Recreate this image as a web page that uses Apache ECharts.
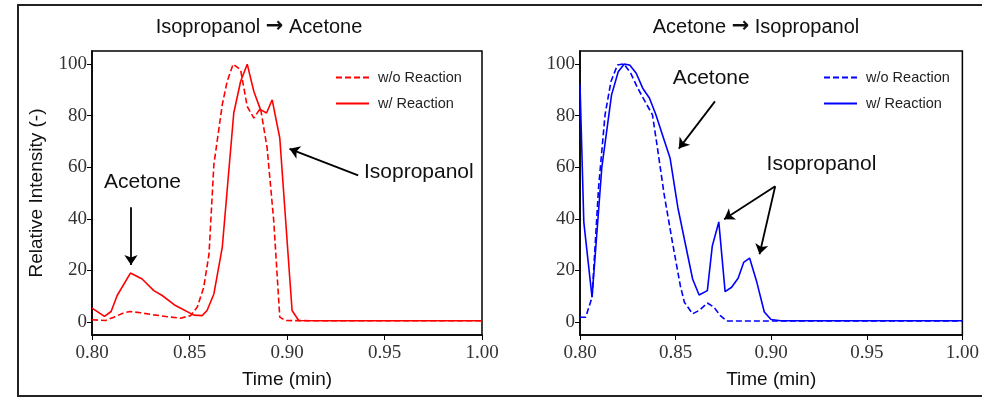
<!DOCTYPE html>
<html>
<head>
<meta charset="utf-8">
<script src="https://cdn.jsdelivr.net/npm/echarts@6/dist/echarts.min.js"></script>
<style>html,body{margin:0;padding:0;background:#fff}#c{width:982px;height:398px}</style>
</head>
<body>
<div id="c"></div>
<script>
// ---- data (time in min, relative intensity) ----
var leftTime_wo  = [0.800,0.8069,0.8112,0.8163,0.8197,0.8249,0.8317,0.8386,0.8454,0.8505,0.854,0.8573,0.860,0.8625,0.8668,0.8693,0.8724,0.8762,0.8796,0.883,0.8864,0.8898,0.8932,0.8963,0.8992,0.92,1.00];
var leftVal_wo   = [0.9,0.6,1.9,3.6,4.1,3.6,2.8,2.1,1.5,2.5,5.8,13.5,26.3,61,84.2,93.2,99.9,97.7,83.5,79,82.9,67.5,39.2,1.9,0.6,0.5,0.5];
var leftTime_w   = [0.800,0.8064,0.8098,0.8129,0.8197,0.8257,0.8317,0.836,0.8428,0.8522,0.8565,0.859,0.8625,0.8668,0.8727,0.8762,0.8796,0.883,0.8864,0.8895,0.8924,0.8963,0.9026,0.906,0.92,1.00];
var leftVal_w    = [5.4,2.2,4.1,10.3,19.0,16.7,12.2,10.3,6.4,2.7,2.5,4.5,10.9,28.9,81.0,93.2,99.9,89.3,82.3,81.0,86.1,71.3,4.5,0.6,0.5,0.5];
var rightTime_wo = [0.800,0.803,0.8063,0.8097,0.8131,0.8162,0.8196,0.823,0.8265,0.8302,0.8345,0.8379,0.8405,0.844,0.8482,0.8525,0.8546,0.8589,0.8623,0.8666,0.870,0.8734,0.8768,1.00];
var rightVal_wo  = [1.9,1.9,9.6,52,80.3,93.2,99.6,100,96.4,90.6,84.8,80.3,67.5,49.5,31.5,14,7.7,3.2,4.5,7.4,5.8,2.5,0.4,0.4];
var rightTime_w  = [0.800,0.802,0.8063,0.8114,0.8165,0.820,0.823,0.826,0.8294,0.8328,0.8363,0.8397,0.8431,0.8471,0.8512,0.8546,0.8589,0.8623,0.8666,0.8692,0.8726,0.8759,0.8793,0.8827,0.8856,0.8887,0.8925,0.8964,0.8999,0.905,1.00];
var rightVal_w   = [92,38.6,9.6,59.8,88,97,99.9,99.6,96.4,90.6,86.8,80.3,72.6,63.6,44.3,32.1,16.7,10.5,12.2,29.5,38.8,11.8,13.5,17.0,23.1,24.8,15.4,3.9,1.0,0.5,0.5];

var xTicks = [0.80,0.85,0.90,0.95,1.00];
var yTicks = [0,20,40,60,80,100];
var titleParts = [['Isopropanol','Acetone'],['Acetone','Isopropanol']];
var legendNames = {L_wo:'w/o Reaction', L_w:'w/ Reaction', R_wo:'w/o Reaction', R_w:'w/ Reaction'};

// annotations: [text, t, v]
var leftLabels  = [['Acetone',0.8259,54.1],['Isopropanol',0.9676,58.0]];
var leftArrows  = [[[0.820,44.5],[0.820,22.1]],[[0.9365,56.8],[0.9013,67.1]]];
var rightLabels = [['Acetone',0.8686,94.6],['Isopropanol',0.9263,61.0]];
var rightArrows = [[[0.8706,85.5],[0.8517,67.2]],[[0.9021,52.6],[0.8754,39.8]],[[0.9021,52.6],[0.8939,26.3]]];

function zip(a,b){return a.map(function(t,i){return [t,b[i]];});}

var SERIF = '"Liberation Serif", "DejaVu Serif", serif';
var SANS = '"Liberation Sans", Arial, sans-serif';

function xAxis(gi){
  return {type:'value', gridIndex:gi, min:0.8, max:1.0, interval:0.05,
    name:'Time (min)', nameLocation:'middle', nameGap:35,
    nameTextStyle:{fontFamily:SANS, fontSize:19, color:'#111'},
    axisLine:{show:true, onZero:false, lineStyle:{color:'#000', width:1.5}},
    axisTick:{show:true, length:5, lineStyle:{color:'#000', width:1}},
    axisLabel:{fontFamily:SERIF, fontSize:19, color:'#333', margin:9, formatter:function(v){return v.toFixed(2);}},
    splitLine:{show:false}};
}
function yAxis(gi, withName){
  return {type:'value', gridIndex:gi, min:-5, max:105,
    name: withName ? 'Relative Intensity (-)' : '', nameLocation:'middle', nameGap:46,
    nameTextStyle:{fontFamily:SANS, fontSize:19, color:'#111'},
    axisLine:{show:true, onZero:false, lineStyle:{color:'#000', width:1.5}},
    axisTick:{show:true, length:5, customValues:yTicks, lineStyle:{color:'#000', width:1}},
    axisLabel:{fontFamily:SERIF, fontSize:19, color:'#333', margin:5, customValues:yTicks},
    splitLine:{show:false}};
}
function lineSeries(name, gi, data, color, dashed){
  return {type:'line', name:name, xAxisIndex:gi, yAxisIndex:gi, data:data,
    symbol:'none', showSymbol:false, smooth:false, animation:false, silent:true,
    lineStyle:{color:color, width:1.6, type: dashed ? [6,3] : 'solid'},
    itemStyle:{color:color}};
}
function annotSeries(gi, labels, arrows){
  return {type:'line', name:'annot'+gi, xAxisIndex:gi, yAxisIndex:gi, data:[], symbol:'none', silent:true, animation:false,
    markLine:{silent:true, animation:false, symbol:['none','arrow'], symbolSize:10,
      lineStyle:{color:'#000', width:1.8, type:'solid'}, label:{show:false}, emphasis:{disabled:true},
      data: arrows.map(function(a){return [{coord:a[0]},{coord:a[1]}];})},
    markPoint:{silent:true, animation:false, symbol:'circle', symbolSize:0,
      label:{show:true, position:'inside', fontFamily:SANS, fontSize:21, color:'#111', formatter:function(p){return p.name;}},
      data: labels.map(function(l){return {name:l[0], coord:[l[1],l[2]]};})}};
}
function legend(left, names){
  return {orient:'vertical', left:left, top:65, itemWidth:33, itemHeight:14, itemGap:11, data:names,
    formatter:function(n){return legendNames[n];}, selectedMode:false,
    itemStyle:{opacity:0},
    textStyle:{fontFamily:SANS, fontSize:14.5, color:'#222', padding:[0,0,0,4]}};
}
function titleText(x, parts){
  return {type:'text', x:x, y:27, silent:true,
    style:{text:parts[0]+' {a|\u2192} '+parts[1], fontFamily:SANS, fontSize:20, fill:'#111',
      textAlign:'center', textVerticalAlign:'middle',
      rich:{a:{fontFamily:'"DejaVu Sans", sans-serif', fontWeight:'bold', fontSize:21, fill:'#111'}}}};
}

var chart = echarts.init(document.getElementById('c'), null, {renderer:'canvas'});
chart.setOption({
  animation:false,
  backgroundColor:'#fff',
  grid:[
    {left:92, right:500, top:51, bottom:63, show:true, borderColor:'#000', borderWidth:1.5},
    {left:580, right:14, top:51, bottom:63, show:true, borderColor:'#000', borderWidth:1.5}
  ],
  xAxis:[xAxis(0), xAxis(1)],
  yAxis:[yAxis(0,true), yAxis(1,false)],
  legend:[legend(330,['L_wo','L_w']), legend(818,['R_wo','R_w'])],
  graphic:[
    {type:'rect', shape:{x:18, y:5, width:1000, height:391}, style:{fill:'none', stroke:'#222', lineWidth:2}, silent:true},
    titleText(259, titleParts[0]),
    titleText(756, titleParts[1])
  ],
  series:[
    lineSeries('L_wo',0,zip(leftTime_wo,leftVal_wo),'#ff0000',true),
    lineSeries('L_w',0,zip(leftTime_w,leftVal_w),'#ff0000',false),
    lineSeries('R_wo',1,zip(rightTime_wo,rightVal_wo),'#0000ff',true),
    lineSeries('R_w',1,zip(rightTime_w,rightVal_w),'#0000ff',false),
    annotSeries(0,leftLabels,leftArrows),
    annotSeries(1,rightLabels,rightArrows)
  ]
});
</script>
</body>
</html>
